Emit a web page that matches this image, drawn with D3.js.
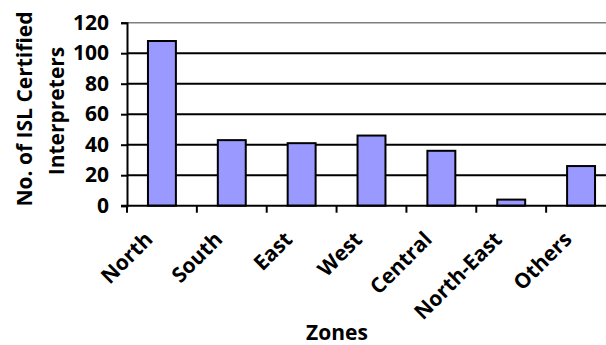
<!DOCTYPE html>
<html lang="en">
  <head>
    <meta charset="UTF-8" />
    <title>ISL Certified Interpreters by Zone</title>
    <script src="https://d3js.org/d3.v7.min.js"></script>
    <style>
      body {
        margin: 0;
        background: #fff;
        font-family: "Open Sans", Arial, sans-serif;
      }
      text {
        font-weight: bold;
        fill: #000;
      }
    </style>
  </head>
  <body>
    <script>
      var zones = ["North", "South", "East", "West", "Central", "North-East", "Others"];
      var interpreters = [108, 43, 41, 46, 36, 4, 26];
      var yTicks = [0, 20, 40, 60, 80, 100, 120];

      var width = 606,
        height = 345;
      var margin = { top: 22.7, left: 127, right: -10, bottom: 139.3 };
      var plotW = width - margin.left - margin.right,
        plotH = height - margin.top - margin.bottom;

      var svg = d3
        .select("body")
        .append("svg")
        .attr("width", width)
        .attr("height", height);

      var g = svg
        .append("g")
        .attr("transform", "translate(" + margin.left + "," + margin.top + ")");

      var x = d3
        .scaleBand()
        .domain(zones)
        .range([0, plotW])
        .paddingInner(0.6)
        .paddingOuter(0.3);
      var y = d3.scaleLinear().domain([0, 120]).range([plotH, 0]);

      // gridlines
      g.selectAll(".grid")
        .data(yTicks.slice(1))
        .enter()
        .append("line")
        .attr("x1", 0)
        .attr("x2", plotW)
        .attr("y1", function (d) { return y(d); })
        .attr("y2", function (d) { return y(d); })
        .attr("stroke", function (d) { return d === 120 ? "#808080" : "#000"; })
        .attr("stroke-width", function (d) { return d === 120 ? 1.5 : 2; });

      // bars
      g.selectAll(".bar")
        .data(interpreters)
        .enter()
        .append("rect")
        .attr("x", function (d, i) { return x(zones[i]); })
        .attr("y", function (d) { return y(d); })
        .attr("width", x.bandwidth())
        .attr("height", function (d) { return plotH - y(d); })
        .attr("fill", "#9999ff")
        .attr("stroke", "#000")
        .attr("stroke-width", 2);

      // y axis
      var yAxis = g
        .append("g")
        .call(d3.axisLeft(y).tickValues(yTicks).tickSize(6).tickPadding(12));
      yAxis.select(".domain").attr("stroke", "#000").attr("stroke-width", 2);
      yAxis.selectAll(".tick line").attr("stroke", "#000").attr("stroke-width", 2);
      yAxis
        .selectAll(".tick text")
        .attr("font-size", 21)
        .attr("font-family", "Open Sans")
        .attr("font-weight", "bold");

      // x axis line and boundary ticks
      g.append("line")
        .attr("x1", -6)
        .attr("x2", plotW)
        .attr("y1", plotH)
        .attr("y2", plotH)
        .attr("stroke", "#000")
        .attr("stroke-width", 2);

      var bounds = zones.map(function (d) {
        return x(d) - x.step() * 0.3;
      });
      g.selectAll(".xtick")
        .data(bounds)
        .enter()
        .append("line")
        .attr("x1", function (d) { return d; })
        .attr("x2", function (d) { return d; })
        .attr("y1", plotH)
        .attr("y2", plotH + 7)
        .attr("stroke", "#000")
        .attr("stroke-width", 2);

      // x labels
      g.selectAll(".xlab")
        .data(zones)
        .enter()
        .append("text")
        .attr("text-anchor", "end")
        .attr("font-size", 21)
        .attr("transform", function (d) {
          var cx = x(d) + x.bandwidth() / 2 - 8;
          return "translate(" + cx + "," + (plotH + 35) + ") rotate(-45)";
        })
        .text(function (d) { return d; });

      // axis titles
      svg.append("text")
        .attr("x", 337)
        .attr("y", 340)
        .attr("text-anchor", "middle")
        .attr("font-size", 21)
        .text("Zones");

      svg.append("text")
        .attr("transform", "translate(32,109) rotate(-90)")
        .attr("text-anchor", "middle")
        .attr("font-size", 21)
        .text("No. of ISL Certified");
      svg.append("text")
        .attr("transform", "translate(64,111) rotate(-90)")
        .attr("text-anchor", "middle")
        .attr("font-size", 21)
        .text("Interpreters");
    </script>
  </body>
</html>
